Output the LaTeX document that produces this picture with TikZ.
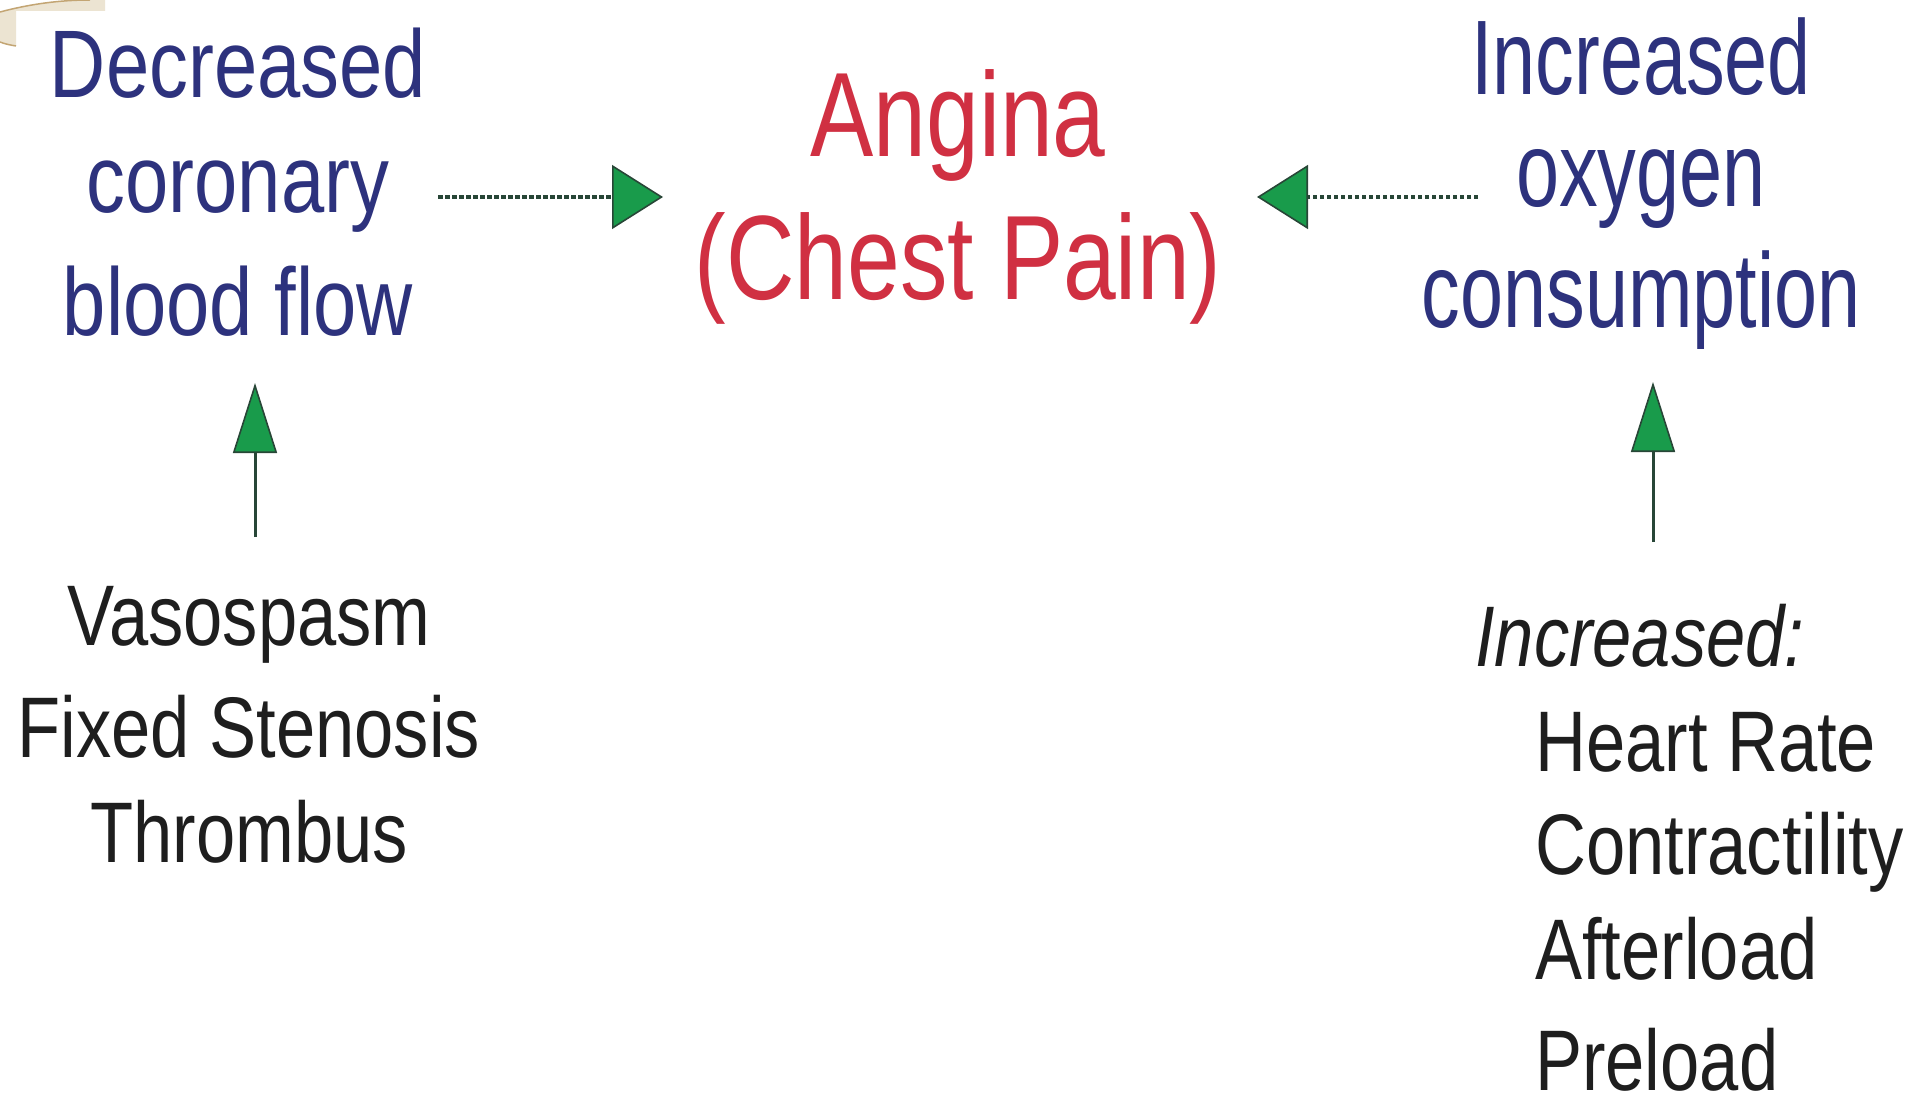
\documentclass[tikz,border=0pt]{standalone}
\usepackage{fontspec}
\setmainfont{Liberation Sans}
\newfontfamily\fontL[FakeStretch=0.81]{Liberation Sans}
\newfontfamily\fontR[FakeStretch=0.73]{Liberation Sans}
\newfontfamily\fontC[FakeStretch=0.79]{Liberation Sans}
\newfontfamily\fontB[FakeStretch=0.82]{Liberation Sans}
\usetikzlibrary{arrows.meta}
\definecolor{navy}{RGB}{45,50,125}
\definecolor{redtxt}{RGB}{208,48,66}
\definecolor{blk}{RGB}{30,30,30}
\definecolor{agreen}{RGB}{25,155,75}
\definecolor{ashaft}{RGB}{40,70,55}
\definecolor{beigefill}{RGB}{236,228,210}
\definecolor{tanline}{RGB}{195,165,115}
\begin{document}
\begin{tikzpicture}[x=1pt,y=-1pt,
  txt/.style={inner sep=0pt, anchor=base},
  bluetop/.style={txt, text=navy, font=\fontL\fontsize{96pt}{110pt}\selectfont},
  bluetopR/.style={txt, text=navy, font=\fontR\fontsize{106pt}{120pt}\selectfont},
  redtop/.style={txt, text=redtxt, font=\fontC\fontsize{120pt}{140pt}\selectfont},
  cause/.style={txt, text=blk, font=\fontB\fontsize{86pt}{100pt}\selectfont},
  causeL/.style={cause, anchor=base west},
  harrow/.style={draw=ashaft, line width=3.6pt, dash pattern=on 4.5pt off 2.5pt,
    -{Triangle[length=51pt,width=64pt,fill=agreen,line width=1.6pt]}},
  varrow/.style={draw=ashaft, line width=3pt,
    -{Triangle[length=70pt,width=44pt,fill=agreen,line width=1.6pt]}}
]
\useasboundingbox (0,0) rectangle (1920,1099);
\fill[white] (0,0) rectangle (1920,1099);
% corner decoration
\fill[beigefill] (0,12) .. controls (30,4) and (60,0) .. (90,0) -- (105,0) -- (105,11) -- (16,11) -- (16,46)
  .. controls (10,45) and (5,44) .. (0,42) -- cycle;
\draw[tanline, line width=1.5pt] (0,12) .. controls (30,4) and (60,0) .. (90,0);
\draw[tanline, line width=1.5pt] (16,46) .. controls (10,45) and (5,44) .. (0,42);

% top left
\node[bluetop] (dec) at (238,98) {Decreased};
\node[bluetop] (cor) at (238,213) {coronary};
\node[bluetop] (flow) at (238,336) {blood flow};
% centre
\node[redtop] (ang) at (958,157) {Angina};
\node[redtop] (chest) at (958,300) {(Chest Pain)};
% top right
\node[bluetopR] (inc) at (1641,95) {Increased};
\node[bluetopR] (oxy) at (1641,207) {oxygen};
\node[bluetopR] (cons) at (1641,328) {consumption};
% bottom left
\node[cause] (vaso) at (249,645) {Vasospasm};
\node[cause] (sten) at (249,757) {Fixed Stenosis};
\node[cause] (thr) at (249,862) {Thrombus};
% bottom right
\node[causeL] (incr) at (1475,666) {\itshape Increased:};
\node[causeL] (hr) at (1535,771) {Heart Rate};
\node[causeL] (con) at (1535,874) {Contractility};
\node[causeL] (aft) at (1535,979) {Afterload};
\node[causeL] (pre) at (1535,1090) {Preload};

% connector ends
\coordinate (a1s) at (438,197);
\coordinate (a1e) at (663,197);
\coordinate (a2s) at (1478,197);
\coordinate (a2e) at (1257,197);
\coordinate (a3s) at (255,537);
\coordinate (a3e) at (255,383);
\coordinate (a4s) at (1653,542);
\coordinate (a4e) at (1653,382);
\draw[harrow] (a1s) -- (a1e);
\draw[harrow] (a2s) -- (a2e);
\draw[varrow] (a3s) -- (a3e);
\draw[varrow] (a4s) -- (a4e);
\end{tikzpicture}
\end{document}
